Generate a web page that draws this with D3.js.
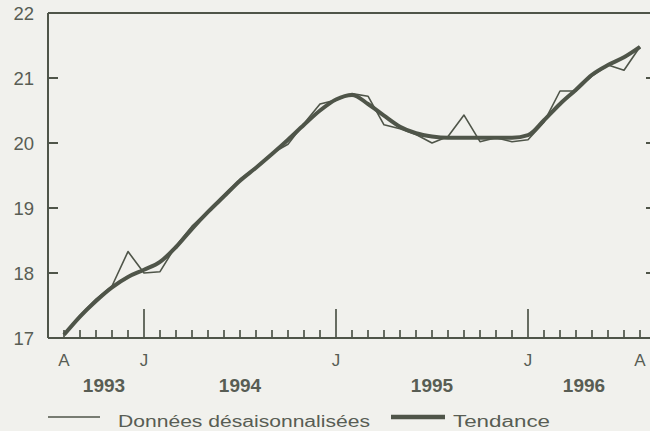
<!DOCTYPE html>
<html>
<head>
<meta charset="utf-8">
<script src="https://cdn.jsdelivr.net/npm/d3@7"></script>
<style>
    body { margin: 0; background: #f1f1ed; }
    svg { display: block; }
    text { font-family: "Liberation Sans", Arial, sans-serif; fill: #585d54; }
</style>
</head>
<body>
<svg id="chart" width="650" height="431"></svg>
<script>

// Months, Aug 1993 .. Aug 1996
var months = ["1993-08", "1993-09", "1993-10", "1993-11", "1993-12",
    "1994-01", "1994-02", "1994-03", "1994-04", "1994-05", "1994-06", "1994-07", "1994-08", "1994-09", "1994-10", "1994-11", "1994-12",
    "1995-01", "1995-02", "1995-03", "1995-04", "1995-05", "1995-06", "1995-07", "1995-08", "1995-09", "1995-10", "1995-11", "1995-12",
    "1996-01", "1996-02", "1996-03", "1996-04", "1996-05", "1996-06", "1996-07", "1996-08"];

// Données désaisonnalisées
var seasAdj = [17.05, 17.35, 17.6, 17.8, 18.33,
    18.0, 18.02, 18.42, 18.72, 18.95, 19.2, 19.44, 19.63, 19.84, 19.98, 20.3, 20.6,
    20.66, 20.76, 20.72, 20.28, 20.22, 20.13, 20.0, 20.1, 20.43, 20.02, 20.08, 20.02,
    20.05, 20.32, 20.8, 20.8, 21.03, 21.2, 21.12, 21.48];

// Tendance
var trend = [17.05, 17.33, 17.57, 17.78, 17.94,
    18.05, 18.17, 18.4, 18.68, 18.94, 19.18, 19.42, 19.62, 19.83, 20.05, 20.28, 20.5,
    20.67, 20.74, 20.6, 20.42, 20.25, 20.15, 20.1, 20.08, 20.08, 20.08, 20.08, 20.08,
    20.12, 20.35, 20.6, 20.82, 21.05, 21.2, 21.32, 21.48];

// Tick labels
var yTicks = [17, 18, 19, 20, 21, 22];
var monthTicks = [{"i": 0, "label": "A"}, {"i": 5, "label": "J"}, {"i": 17, "label": "J"}, {"i": 29, "label": "J"}, {"i": 36, "label": "A"}];
var years = ["1993", "1994", "1995", "1996"];
var yearBounds = [0, 5, 17, 29, 36];
var legendLabels = ["Données désaisonnalisées", "Tendance"];

var ink = "#4f5549";

var svg = d3.select("#chart"),
    plotLeft = 48,
    plotRight = 656,
    plotTop = 13,
    plotBottom = 338;

// Scales
var x = d3.scaleLinear().domain([-1, 37]).range([plotLeft, plotRight]);
var y = d3.scaleLinear().domain([17, 22]).range([plotBottom, plotTop]);

// Frame
svg.append("line")
    .attr("x1", plotLeft).attr("x2", plotRight)
    .attr("y1", plotTop).attr("y2", plotTop)
    .attr("stroke", ink).attr("stroke-width", 2);
svg.append("line")
    .attr("x1", plotLeft).attr("x2", plotRight)
    .attr("y1", plotBottom).attr("y2", plotBottom)
    .attr("stroke", ink).attr("stroke-width", 2);
svg.append("line")
    .attr("x1", plotLeft).attr("x2", plotLeft)
    .attr("y1", plotTop).attr("y2", plotBottom)
    .attr("stroke", ink).attr("stroke-width", 2);

// Y ticks, both sides, pointing in
svg.selectAll(".ytick-l")
    .data(yTicks.slice(1, -1))
    .enter().append("line")
    .attr("x1", plotLeft).attr("x2", plotLeft + 10)
    .attr("y1", function (d) { return y(d); })
    .attr("y2", function (d) { return y(d); })
    .attr("stroke", ink).attr("stroke-width", 2);
svg.selectAll(".ytick-r")
    .data(yTicks.slice(1, -1))
    .enter().append("line")
    .attr("x1", plotRight - 10).attr("x2", plotRight)
    .attr("y1", function (d) { return y(d); })
    .attr("y2", function (d) { return y(d); })
    .attr("stroke", ink).attr("stroke-width", 2);

svg.selectAll(".ylabel")
    .data(yTicks)
    .enter().append("text")
    .attr("x", 34)
    .attr("y", function (d) { return y(d); })
    .attr("dy", "0.36em")
    .attr("text-anchor", "end")
    .attr("font-size", 18.5)
    .text(function (d) { return d; });

// X ticks, one per month, taller in January
svg.selectAll(".xtick")
    .data(months)
    .enter().append("line")
    .attr("x1", function (d, i) { return x(i); })
    .attr("x2", function (d, i) { return x(i); })
    .attr("y1", function (d) { return d.slice(5) === "01" ? plotBottom - 29 : plotBottom - 8; })
    .attr("y2", plotBottom)
    .attr("stroke", ink).attr("stroke-width", 1.7);

svg.selectAll(".xlabel")
    .data(monthTicks)
    .enter().append("text")
    .attr("x", function (d) { return x(d.i); })
    .attr("y", 366)
    .attr("text-anchor", "middle")
    .attr("font-size", 17)
    .text(function (d) { return d.label; });

svg.selectAll(".year")
    .data(years)
    .enter().append("text")
    .attr("x", function (d, i) { return (x(yearBounds[i]) + x(yearBounds[i + 1])) / 2; })
    .attr("y", 392)
    .attr("text-anchor", "middle")
    .attr("font-size", 19)
    .attr("font-weight", "bold")
    .text(function (d) { return d; });

// Series
var line = d3.line()
    .x(function (d, i) { return x(i); })
    .y(function (d) { return y(d); });

svg.append("path")
    .datum(trend)
    .attr("d", line.curve(d3.curveMonotoneX))
    .attr("fill", "none")
    .attr("stroke", ink)
    .attr("stroke-width", 4)
    .attr("stroke-linejoin", "round");

svg.append("path")
    .datum(seasAdj)
    .attr("d", line.curve(d3.curveLinear))
    .attr("fill", "none")
    .attr("stroke", ink)
    .attr("stroke-width", 1.6)
    .attr("stroke-linejoin", "round");

// Legend
var legend = svg.append("g");
legend.append("line")
    .attr("x1", 48).attr("x2", 100).attr("y1", 417).attr("y2", 417)
    .attr("stroke", ink).attr("stroke-width", 1.6);
legend.append("text")
    .attr("x", 118).attr("y", 427)
    .attr("font-size", 16)
    .attr("textLength", 252)
    .attr("lengthAdjust", "spacingAndGlyphs")
    .text(legendLabels[0]);
legend.append("line")
    .attr("x1", 391).attr("x2", 445).attr("y1", 417).attr("y2", 417)
    .attr("stroke", ink).attr("stroke-width", 4.5);
legend.append("text")
    .attr("x", 453).attr("y", 427)
    .attr("font-size", 16)
    .attr("textLength", 97)
    .attr("lengthAdjust", "spacingAndGlyphs")
    .text(legendLabels[1]);

</script>
</body>
</html>
